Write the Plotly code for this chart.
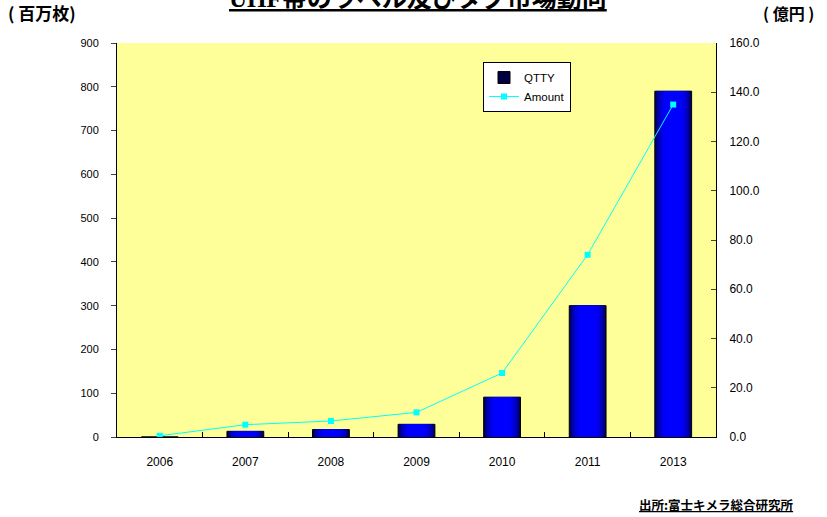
import plotly.graph_objects as go
from plotly.subplots import make_subplots

years = ["2006", "2007", "2008", "2009", "2010", "2011", "2013"]
qtty = [0, 13, 17, 29, 91, 300, 790]
amount = [0.5, 5.0, 6.5, 10.0, 26.0, 74.0, 135.0]
left_ticks = [0, 100, 200, 300, 400, 500, 600, 700, 800, 900]
right_ticks = [0, 20, 40, 60, 80, 100, 120, 140, 160]

W, H = 827, 517
L, R, T, B = 117, 716, 43, 437

fig = make_subplots(specs=[[{"secondary_y": True}]])

# gradient-like bars via overlaid layers (dark edges, bright centre)
layers = [
    (0.43, "#000040", 0.0),
    (0.41, "#000070", -0.005),
    (0.38, "#00009a", -0.01),
    (0.34, "#0000c0", -0.015),
    (0.29, "#0000e0", -0.02),
    (0.24, "#0000f5", -0.025),
    (0.18, "#0000ff", -0.03),
]
for i, (w, c, off) in enumerate(layers):
    fig.add_trace(
        go.Bar(
            x=years, y=qtty, width=w, name="QTTY",
            marker=dict(color=c, line=dict(color="black", width=1 if i == 0 else 0)),
            showlegend=(i == 0), legendrank=1,
        ),
        secondary_y=False,
    )

fig.add_trace(
    go.Scatter(
        x=years, y=amount, name="Amount", mode="lines+markers",
        line=dict(color="#00FFFF", width=1),
        marker=dict(symbol="square", size=6, color="#00FFFF"),
        legendrank=2,
    ),
    secondary_y=True,
)

fig.update_layout(
    width=W, height=H,
    margin=dict(l=L, r=W - R, t=T, b=H - B, pad=0, autoexpand=False),
    paper_bgcolor="white",
    plot_bgcolor="#FFFF99",
    barmode="overlay",
    font=dict(family="Liberation Sans, Arial, Noto Sans CJK JP", color="black", size=11),
    legend=dict(
        x=(483 - L) / (R - L), y=(B - 62) / (B - T), xanchor="left", yanchor="top",
        bgcolor="white", bordercolor="black", borderwidth=1,
        font=dict(size=11.5, family="Liberation Sans, Arial"),
        tracegroupgap=0,
    ),
    showlegend=True,
)

fig.update_xaxes(
    domain=[0, 1], automargin=False,
    type="category", showline=True, linecolor="black", linewidth=1,
    ticks="inside", tickson="boundaries", ticklen=5, tickcolor="black",
    tickfont=dict(size=12), showgrid=False, zeroline=False, ticklabelstandoff=14,
)
fig.update_yaxes(
    range=[0, 900], tickvals=left_ticks, ticks="outside", ticklen=5, automargin=False,
    showline=True, linecolor="black", linewidth=1, showgrid=False, zeroline=False,
    tickfont=dict(size=11), secondary_y=False, ticklabelstandoff=10,
)
fig.update_yaxes(
    range=[0, 160], tickvals=right_ticks, tickformat=".1f", ticks="inside", ticklen=5,
    showline=True, linecolor="black", linewidth=1, showgrid=False, zeroline=False,
    automargin=False, tickfont=dict(size=12), secondary_y=True, ticklabelstandoff=10,
)

def px_x(p):
    return (p - L) / (R - L)

def px_y(p):
    return (B - p) / (B - T)

fig.add_annotation(
    text="<u>UHF帯のラベル及びタグ市場動向</u>", xref="paper", yref="paper",
    x=px_x(418), y=px_y(14), xanchor="center", yanchor="bottom", showarrow=False,
    font=dict(size=25, family="Liberation Serif, Noto Sans CJK JP", color="black", weight="bold"),
)
fig.add_annotation(
    text="( 百万枚)", xref="paper", yref="paper",
    x=px_x(6), y=px_y(12), xanchor="left", yanchor="middle", showarrow=False,
    font=dict(size=17, family="Noto Sans CJK JP", weight="bold"),
)
fig.add_annotation(
    text="( 億円 )", xref="paper", yref="paper",
    x=px_x(816), y=px_y(13), xanchor="right", yanchor="middle", showarrow=False,
    font=dict(size=16, family="Noto Sans CJK JP", weight="bold"),
)
fig.add_annotation(
    text="<u>出所:富士キメラ総合研究所</u>", xref="paper", yref="paper",
    x=px_x(796), y=px_y(504), xanchor="right", yanchor="middle", showarrow=False,
    font=dict(size=12.5, family="Noto Sans CJK JP", weight="bold"),
)

fig.write_html(
    "out.html",
    config={"displayModeBar": False},
    post_script="document.body.style.margin='0';document.body.style.overflow='hidden';",
)
